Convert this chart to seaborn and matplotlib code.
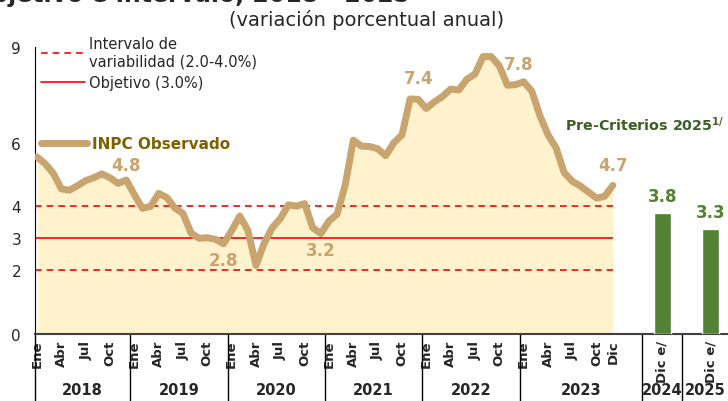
import numpy as np
import pandas as pd
import matplotlib
matplotlib.use("Agg")
import matplotlib.pyplot as plt
import matplotlib.transforms as mtransforms
import seaborn as sns
from matplotlib.lines import Line2D

# INPC, variacion porcentual anual (mensual, Ene 2018 - Dic 2023)
inpc_2018 = [5.55, 5.34, 5.04, 4.55, 4.51, 4.65, 4.81, 4.90, 5.02, 4.90, 4.72, 4.83]
inpc_2019 = [4.37, 3.94, 4.00, 4.41, 4.28, 3.95, 3.78, 3.16, 3.00, 3.02, 2.97, 2.83]
inpc_2020 = [3.24, 3.70, 3.25, 2.15, 2.84, 3.33, 3.62, 4.05, 4.01, 4.09, 3.33, 3.15]
inpc_2021 = [3.54, 3.76, 4.67, 6.08, 5.89, 5.88, 5.81, 5.59, 6.00, 6.24, 7.37, 7.36]
inpc_2022 = [7.07, 7.28, 7.45, 7.68, 7.65, 7.99, 8.15, 8.70, 8.70, 8.41, 7.80, 7.82]
inpc_2023 = [7.91, 7.62, 6.85, 6.25, 5.84, 5.06, 4.79, 4.64, 4.45, 4.26, 4.32, 4.66]
anios = ["2018", "2019", "2020", "2021", "2022", "2023"]
meses_tick = ["Ene", "Abr", "Jul", "Oct"]
etiquetas_dic = ["4.8", "2.8", "3.2", "7.4", "7.8", "4.7"]

# Pre-Criterios 2025
pc_anios = ["2024", "2025"]
pc_valores = [3.8, 3.3]
pc_etiquetas = ["3.8", "3.3"]

objetivo = 3.0
intervalo = [2.0, 4.0]

inpc = inpc_2018 + inpc_2019 + inpc_2020 + inpc_2021 + inpc_2022 + inpc_2023
df = pd.DataFrame({"mes": np.arange(len(inpc)), "inpc": inpc})
pc_pos = [77.1, 83.1]

tan = "#C8A46E"
crema = "#FFF2CC"
verde = "#548235"
verde_osc = "#3B5E23"
oliva = "#7F6000"

sns.set_style("white")
plt.rcParams["font.family"] = ["DejaVu Sans"]

fig = plt.figure(figsize=(7.28, 4.02), dpi=100)
ax = fig.add_axes([35 / 728, 67 / 402, 693 / 728, 287 / 402])

ax.fill_between(df["mes"], df["inpc"], color=crema, lw=0, zorder=1)
for v in intervalo:
    ax.hlines(v, -0.25, df["mes"].iloc[-1], color="#FF0000", lw=1.2, ls=(0, (4, 3)), zorder=2)
ax.hlines(objetivo, -0.25, df["mes"].iloc[-1], color="#FF0000", lw=1.2, zorder=2)

sns.lineplot(data=df, x="mes", y="inpc", color=tan, lw=5, ax=ax, zorder=3,
             solid_joinstyle="round", solid_capstyle="round")

sns.barplot(x=pc_pos, y=pc_valores, native_scale=True, width=2.1 / 6, color=verde,
            saturation=1, ax=ax, zorder=3)

# etiquetas de diciembre
dic_idx = [11, 23, 35, 47, 59, 71]
dic_off = [(0, 11), (0, -12), (0, -12), (0, 15), (2, 15), (0, 15)]
for i, lab, off in zip(dic_idx, etiquetas_dic, dic_off):
    ax.annotate(lab, (i, inpc[i]), xytext=off, textcoords="offset points",
                ha="center", va="center", fontsize=12, fontweight="bold", color=tan)
for p, v, lab in zip(pc_pos, pc_valores, pc_etiquetas):
    ax.annotate(lab, (p, v), xytext=(0, 12), textcoords="offset points",
                ha="center", va="center", fontsize=12, fontweight="bold", color=verde)

ax.text(65.1, 6.58, r"Pre-Criterios 2025$^{\mathbf{1/}}$", ha="left", va="center",
        fontsize=10.3, fontweight="bold", color=verde_osc)

ax.set_xlim(-0.25, 85.2)
ax.set_ylim(0, 9)
ax.set_yticks([0, 2, 3, 4, 6, 9])
ax.set_yticklabels(["0", "2", "3", "4", "6", "9"], fontsize=11)
ax.tick_params(axis="y", length=4, width=1, color="black", pad=6)

xt = []
xl = []
for k in range(len(anios)):
    for j, m in enumerate(meses_tick):
        xt.append(12 * k + 3 * j)
        xl.append(m)
xt.append(71)
xl.append("Dic")
xt += pc_pos
xl += ["Dic e/", "Dic e/"]
ax.set_xticks(xt)
ax.set_xticklabels(xl, rotation=90, fontsize=9.5, fontweight="bold")
ax.tick_params(axis="x", length=0, pad=4)
ax.set_xlabel("")
ax.set_ylabel("")

sns.despine(ax=ax, top=True, right=True)
ax.spines["left"].set_color("black")
ax.spines["bottom"].set_color("#404040")
ax.spines["bottom"].set_linewidth(1.5)

# separadores de anios y etiquetas
trans = mtransforms.blended_transform_factory(ax.transData, ax.transAxes)
seps = [-0.25, 11.5, 23.5, 35.5, 47.5, 59.5, 74.6, 79.5]
for s in seps:
    ax.plot([s, s], [0, -0.24], color="black", lw=1, transform=trans, clip_on=False)
centros = [(seps[k] + seps[k + 1]) / 2 for k in range(6)] + [77.05, 82.4]
for c, a in zip(centros, anios + pc_anios):
    ax.text(c, -0.195, a, transform=trans, ha="center", va="center",
            fontsize=10.5, fontweight="bold")

# leyenda
h1 = [Line2D([], [], color="#FF0000", lw=1.2, ls=(0, (4, 3))),
      Line2D([], [], color="#FF0000", lw=1.2)]
leg1 = ax.legend(h1, ["Intervalo de\nvariabilidad (2.0-4.0%)", "Objetivo (3.0%)"],
                 loc="upper left", bbox_to_anchor=(0.0, 1.06), frameon=False,
                 fontsize=10.5, handlelength=3.0, handletextpad=0.3, labelspacing=0.5,
                 borderaxespad=0)
ax.add_artist(leg1)
h2 = [Line2D([], [], color=tan, lw=5, solid_capstyle="round")]
leg2 = ax.legend(h2, ["INPC Observado"], loc="upper left", bbox_to_anchor=(0.0, 0.71),
                 frameon=False, fontsize=11, handlelength=3.0, handletextpad=0.3,
                 borderaxespad=0)
for t in leg2.get_texts():
    t.set_color(oliva)
    t.set_fontweight("bold")

fig.text(410 / 728, 1.015, "Inflación general anual, objetivo e intervalo, 2018 - 2025",
         ha="right", va="center", fontsize=17, fontweight="bold")
fig.text(367 / 728, 1 - 20 / 402, "(variación porcentual anual)", ha="center", va="center",
         fontsize=14)

fig.savefig("out.png", dpi=100)
